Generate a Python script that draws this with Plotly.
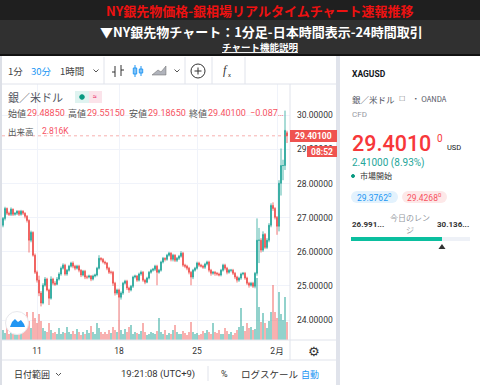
import plotly.graph_objects as go

W, H = 480, 385
closes = [26.78,26.98,27.27,27.13,27.10,27.25,27.10,27.13,27.19,27.10,27.19,27.13,
27.04,26.92,26.34,26.57,25.90,25.40,25.17,24.79,24.50,25.02,25.20,24.88,
24.64,25.20,25.08,25.05,25.20,25.35,25.52,25.61,25.35,25.46,25.58,25.67,
25.58,25.52,25.58,25.46,25.32,25.43,25.26,25.26,25.29,25.20,25.29,25.32,
25.52,25.81,25.78,25.70,25.67,25.52,25.40,25.40,25.08,24.79,24.88,24.67,
24.79,25.08,25.14,24.94,24.88,24.99,25.26,25.29,25.17,25.35,25.40,25.17,
25.11,25.23,25.40,25.46,25.49,25.58,25.40,25.46,25.70,25.81,25.78,25.90,
25.96,25.78,25.90,25.75,25.81,25.87,25.96,25.61,25.58,25.52,25.40,25.26,
25.46,25.52,25.67,25.61,25.58,25.55,25.64,25.70,25.46,25.37,25.40,25.37,
25.35,25.32,25.46,25.61,25.52,25.40,25.46,25.46,25.37,25.26,25.17,25.23,
25.35,25.37,25.23,25.08,25.02,25.08,24.99,25.37,26.34,26.34,26.05,26.51,
26.13,26.34,26.78,27.36,27.27,27.01,26.75,28.01,28.53,28.53,29.56,29.40]
opens = [26.70,26.78,26.98,27.27,27.13,27.10,27.25,27.10,27.13,27.19,27.10,27.19,
27.13,27.04,26.92,26.34,26.57,25.90,25.40,25.17,24.79,24.50,25.02,25.20,
24.88,24.64,25.20,25.08,25.05,25.20,25.35,25.52,25.61,25.35,25.46,25.58,
25.67,25.58,25.52,25.58,25.46,25.32,25.43,25.26,25.26,25.29,25.20,25.29,
25.32,25.52,25.81,25.78,25.70,25.67,25.52,25.40,25.40,25.08,24.79,24.88,
24.67,24.79,25.08,25.14,24.94,24.88,24.99,25.26,25.29,25.17,25.35,25.40,
25.17,25.11,25.23,25.40,25.46,25.49,25.58,25.40,25.46,25.70,25.81,25.78,
25.90,25.96,25.78,25.90,25.75,25.81,25.87,25.96,25.61,25.58,25.52,25.40,
25.26,25.46,25.52,25.67,25.61,25.58,25.55,25.64,25.70,25.46,25.37,25.40,
25.37,25.35,25.32,25.46,25.61,25.52,25.40,25.46,25.46,25.37,25.26,25.17,
25.23,25.35,25.37,25.23,25.08,25.02,25.08,24.99,25.37,26.34,26.34,26.05,
26.51,26.13,26.34,26.78,27.36,27.27,27.01,26.75,28.01,28.53,28.53,29.49]
highs = [26.82,27.02,27.32,27.30,27.18,27.30,27.27,27.16,27.22,27.22,27.23,27.22,
27.16,27.08,26.95,26.62,26.60,25.95,25.45,25.30,24.85,25.08,25.26,25.24,
24.92,25.28,25.24,25.14,25.26,25.40,25.57,25.66,25.65,25.50,25.62,25.71,
25.72,25.62,25.62,25.62,25.49,25.47,25.47,25.31,25.33,25.32,25.33,25.36,
25.56,25.90,25.84,25.82,25.74,25.70,25.56,25.45,25.44,25.12,24.92,24.92,
24.84,25.12,25.18,25.18,24.98,25.03,25.30,25.33,25.32,25.39,25.45,25.44,
25.21,25.27,25.44,25.50,25.53,25.62,25.62,25.50,25.74,25.85,25.84,25.94,
26.00,25.99,25.94,25.93,25.85,25.91,26.02,26.00,25.65,25.62,25.56,25.44,
25.50,25.56,25.71,25.71,25.65,25.62,25.68,25.74,25.74,25.50,25.44,25.44,
25.41,25.39,25.50,25.65,25.65,25.56,25.50,25.50,25.50,25.41,25.30,25.27,
25.39,25.41,25.41,25.27,25.12,25.12,25.12,25.41,26.98,26.70,26.40,26.60,
26.55,26.40,26.84,27.42,27.45,27.31,27.05,28.10,29.03,28.70,30.14,29.55]
lows = [26.60,26.72,26.92,27.08,27.05,27.05,27.05,27.06,27.08,27.05,27.06,27.08,
26.98,26.86,25.98,26.28,25.86,25.35,25.10,24.70,24.40,24.46,24.98,24.84,
24.44,24.60,25.02,25.00,25.02,25.16,25.30,25.48,25.30,25.30,25.42,25.54,
25.52,25.46,25.48,25.40,25.26,25.28,25.20,25.20,25.22,25.14,25.16,25.25,
25.28,25.48,25.72,25.66,25.62,25.46,25.35,25.34,25.00,24.72,24.74,24.00,
24.60,24.74,25.04,24.88,24.80,24.84,24.94,25.22,25.12,25.13,25.30,25.12,
25.05,25.08,25.19,25.36,25.42,25.44,25.02,25.36,25.42,25.66,25.72,25.74,
25.86,25.72,25.72,25.70,25.70,25.76,25.83,25.56,25.52,25.46,25.34,25.02,
25.20,25.42,25.48,25.56,25.54,25.50,25.50,25.60,25.40,25.30,25.33,25.30,
25.30,25.28,25.28,25.42,25.46,25.34,25.36,25.40,25.32,25.20,25.10,25.12,
25.18,25.31,25.18,25.03,24.95,24.98,24.94,24.93,25.30,25.67,25.98,26.00,
26.08,26.08,26.28,26.72,27.20,26.95,26.50,26.60,27.65,28.10,28.40,29.19]
volumes_k = [0.8,1.6,1.1,2.0,1.0,1.5,0.9,1.9,1.2,1.0,1.3,1.7,
2.8,4.4,3.0,1.8,4.4,3.4,2.6,4.1,3.0,1.9,1.4,1.2,
2.7,1.5,1.1,1.3,1.0,1.8,0.9,1.3,1.1,2.0,1.2,0.9,
1.4,1.0,1.7,1.2,0.8,1.3,1.0,1.5,1.1,2.2,1.3,1.0,
2.7,1.8,1.2,0.9,1.3,1.0,1.6,1.1,2.1,1.5,1.2,3.2,
1.5,1.0,1.7,1.2,2.0,2.4,1.0,1.3,1.1,0.9,1.4,2.7,
1.2,0.8,1.0,1.3,1.1,0.9,1.4,3.4,1.2,1.0,1.5,0.8,
1.1,0.9,1.5,2.3,1.2,1.0,0.9,1.4,1.1,0.8,1.2,2.8,
1.3,0.9,1.1,0.8,1.0,1.4,1.1,1.6,1.2,1.0,2.6,1.3,
1.1,1.5,1.0,0.9,1.9,1.4,1.0,1.3,0.8,1.1,1.6,2.0,
5.0,2.2,1.4,2.6,1.8,2.0,1.5,1.7,9.7,5.2,2.8,4.2,
2.6,1.9,3.0,4.4,8.6,4.4,3.4,7.5,4.0,3.2,6.7,2.816]
date_ticks = [18, 59, 98, 138]
date_labels = ["11", "18", "25", "2月"]
price_ticks = [24, 25, 26, 27, 28, 29, 30]
price_labels = ["24.00000", "25.00000", "26.00000", "27.00000", "28.00000", "29.00000", "30.00000"]
last_price = 29.401

UP, DOWN = "#26a69a", "#ef5350"
FONT = "Roboto, 'Noto Sans CJK JP', sans-serif"
JP = "'Noto Sans CJK JP', sans-serif"
idx = list(range(len(closes)))
vol_colors = ["rgba(38,166,154,0.5)" if c >= o else "rgba(239,83,80,0.45)" for o, c in zip(opens, closes)]

fig = go.Figure()
fig.add_trace(go.Bar(x=idx, y=volumes_k, marker=dict(color=vol_colors, line_width=0), width=0.75, yaxis="y", xaxis="x"))
fig.add_trace(go.Candlestick(x=idx, open=opens, high=highs, low=lows, close=closes, yaxis="y2", xaxis="x",
    increasing=dict(line=dict(color=UP, width=0.8), fillcolor=UP),
    decreasing=dict(line=dict(color=DOWN, width=0.8), fillcolor=DOWN), whiskerwidth=0))

def px(x): return x / W
def py(y): return 1 - y / H

shapes, annos = [], []
def rect(x0, y0, x1, y1, fill, layer="below", line=None):
    shapes.append(dict(type="rect", xref="paper", yref="paper", x0=px(x0), x1=px(x1), y0=py(y0), y1=py(y1),
                       fillcolor=fill, line=dict(width=0) if line is None else line, layer=layer))
def seg(x0, y0, x1, y1, color="#e0e3eb", width=1, layer="above"):
    shapes.append(dict(type="line", xref="paper", yref="paper", x0=px(x0), x1=px(x1), y0=py(y0), y1=py(y1),
                       line=dict(color=color, width=width), layer=layer))
def circ(cx, cy, r, line="#333", fill="rgba(0,0,0,0)", width=1):
    shapes.append(dict(type="circle", xref="paper", yref="paper", x0=px(cx-r), x1=px(cx+r), y0=py(cy+r), y1=py(cy-r),
                       fillcolor=fill, line=dict(color=line, width=width), layer="above"))
def path(d_pts, fill, line="rgba(0,0,0,0)"):
    d = "M " + " L ".join(f"{px(a):.4f},{py(b):.4f}" for a, b in d_pts) + " Z"
    shapes.append(dict(type="path", xref="paper", yref="paper", path=d, fillcolor=fill, line=dict(color=line, width=0.5), layer="above"))
def T(x, y, s, size=9, color="#333", anchor="left", font=FONT, bg=None):
    annos.append(dict(xref="paper", yref="paper", x=px(x), y=py(y), text=s, showarrow=False, xanchor=anchor, yanchor="middle",
                      font=dict(size=size, color=color, family=font), borderpad=0, bgcolor=bg))

# page chrome
rect(0, 0, 480, 20, "#1f1f1f")
rect(0, 20, 480, 54, "#303030")
rect(0, 54, 480, 56, "#111111")
rect(0, 56, 2, 385, "#dcdfe6")
rect(336, 56, 340, 385, "#e0e3eb")
seg(2, 84, 336, 84)
seg(2, 360, 336, 360)
seg(290, 84, 290, 360)
seg(2, 340, 336, 340)
for x in (104, 185, 212, 245):
    seg(x, 57, x, 84)

# header
T(260, 10, "<b>NY銀先物価格-銀相場リアルタイムチャート速報推移</b>", 13, "#ee1111", "center", JP)
T(261, 31, "<b>▼NY銀先物チャート：1分足-日本時間表示-24時間取引</b>", 13, "#ffffff", "center", JP)
T(260, 47, "<b><u>チャート機能説明</u></b>", 9.5, "#ffffff", "center", JP)

# toolbar
T(7, 71, "1分", 9.5, "#444", font=JP)
T(30, 71, "30分", 9.5, "#2196f3", font=JP)
T(59, 71, "1時間", 9.5, "#444", font=JP)
for a in (96, 177):
    seg(a-2.5, 69.5, a, 72, "#555"); seg(a, 72, a+2.5, 69.5, "#555")
seg(115, 66, 115, 77, "#333"); seg(112, 72, 115, 72, "#333"); seg(121, 65, 121, 76, "#333"); seg(121, 70, 124, 70, "#333")
for xc, h0, h1 in ((135, 65, 77), (141, 66, 76)):
    seg(xc, h0, xc, h1, "#2196f3")
    rect(xc-1.7, h0+3, xc+1.7, h1-3, "rgba(33,150,243,0.15)", "above", dict(color="#2196f3", width=1))
path([(152, 75), (158, 70), (161, 72), (166, 66), (166, 75)], "#b0b3bb", "#666")
circ(198, 71, 7, "#333")
seg(194.5, 71, 201.5, 71, "#333"); seg(198, 67.5, 198, 74.5, "#333")
T(222, 70, "<i>f</i>", 12, "#333", font="Liberation Serif")
T(227, 75, "x", 6, "#333")

# legend
T(7, 97, "銀／米ドル", 11, "#50535e", font=JP)
shapes.append(dict(type="rect", xref="paper", yref="paper", x0=px(75), x1=px(89), y0=py(103), y1=py(91), fillcolor="#dff3f0", line_width=0, layer="above"))
shapes.append(dict(type="rect", xref="paper", yref="paper", x0=px(89), x1=px(102), y0=py(103), y1=py(91), fillcolor="#fbe3ea", line_width=0, layer="above"))
circ(82, 97, 2.3, "#089981", "#089981")
T(95, 97, "≈", 7, "#e91e63", "center")
RED = "#f7525f"
for lx, lab, vx, val in ((7, "始値", 26, "29.48850"), (67, "高値", 86, "29.55150"), (128, "安値", 147, "29.18650"), (188, "終値", 207, "29.40100")):
    T(lx, 113, lab, 9, "#555", font=JP)
    T(vx, 113, val, 9, RED)
T(249, 113, "−0.087…", 9, RED)
T(7, 131, "出来高", 8.5, "#555", font=JP)
T(41, 131, "2.816K", 8.5, RED)

# price badges
rect(290, 130, 337, 142, "#ef5350", "above")
T(313.5, 136, "<b>29.40100</b>", 8.5, "#ffffff", "center")
rect(307, 146, 337, 157, "#ef5350", "above")
T(322, 151.5, "<b>08:52</b>", 8.5, "#ffffff", "center")

# logo + bottom
circ(17, 323, 11.5, "#e8e8ec", "#ffffff")
path([(10, 327), (12, 322), (15, 319), (18, 322), (21, 320), (24, 324), (25, 327)], "#2196f3")
T(314, 351, "⚙", 13, "#333", "center", "DejaVu Sans")
T(13, 374, "日付範囲", 9, "#333", font=JP)
seg(56, 373, 58.5, 375.5, "#555"); seg(58.5, 375.5, 61, 373, "#555")
T(120, 374, "19:21:08 (UTC+9)", 9.5, "#333")
seg(208, 366, 208, 381)
T(224, 374, "%", 9, "#333", "center")
T(240, 374, "ログスケール", 9.5, "#333", font=JP)
T(310, 374, "自動", 9, "#2196f3", "center", JP)

# right panel
T(351, 74, "<b>XAGUSD</b>", 8.5, "#131722")
T(351, 99, "銀／米ドル", 8.5, "#50535e", font=JP)
T(398, 99, "☐", 7, "#777")
T(411, 99, "・ OANDA", 7.5, "#50535e", font=JP)
T(351, 114, "CFD", 8, "#9598a1")
T(351, 143, "29.4010", 21.5, "#f7373a", font="Roboto Medium, Roboto")
T(436, 138, "0", 10, "#f7373a")
T(446, 147, "USD", 7.5, "#131722")
T(351, 163, "2.41000 (8.93%)", 10, "#26a69a")
circ(353, 176, 1.5, "#089981", "#089981")
T(359, 176, "市場開始", 8, "#333", font=JP)
for x0, x1, bg, fg, s, tx in ((351, 398, "#e3f2fd", "#2196f3", "29.3762", 374), (402, 447, "#fde8e8", "#f7525f", "29.4268", 424)):
    circ(x0+6, 197, 6, bg, bg, 0)
    circ(x1-6, 197, 6, bg, bg, 0)
    rect(x0+6, 191, x1-6, 203, bg, "above")
    T(tx, 197, s + "<sup>0</sup>", 8.5, fg, "center")
T(351, 224, "<b>26.991...</b>", 8, "#333")
T(410, 217, "今日のレン", 8, "#9598a1", "center", JP)
T(410, 229, "ジ", 8, "#9598a1", "center", JP)
T(470, 224, "<b>30.136...</b>", 8, "#333", "right")
rect(351, 237, 442, 241, "#0bbf9f", "above")
rect(442, 237, 470, 241, "#eef1f7", "above")
path([(438.5, 249), (445.5, 249), (442, 244)], "#333")

# last price dotted line
shapes.append(dict(type="line", xref="x", yref="y2", x0=0.5, x1=144.5, y0=last_price, y1=last_price,
                   line=dict(color="#ef5350", width=1, dash="dot"), layer="above", opacity=0.45))

fig.update_layout(
    width=W, height=H, autosize=False, margin=dict(l=0, r=0, t=0, b=0), paper_bgcolor="#ffffff", plot_bgcolor="#ffffff",
    showlegend=False, bargap=0, shapes=shapes, annotations=annos,
    font=dict(family=FONT, color="#333", size=9),
    xaxis=dict(domain=[px(2), px(290)], range=[0.5, 144.5], tickmode="array", tickvals=date_ticks, ticktext=date_labels,
               showgrid=True, gridcolor="#f0f3fa", gridwidth=1, zeroline=False, showline=False, ticks="",
               rangeslider=dict(visible=False), anchor="y", tickfont=dict(size=8.5, color="#333", family=FONT), ticklabelstandoff=4),
    yaxis=dict(domain=[py(340), py(84)], range=[0, 40], showgrid=False, showticklabels=False, zeroline=False, ticks=""),
    yaxis2=dict(domain=[py(340), py(84)], overlaying="y", side="right", anchor="x", range=[23.415, 30.92],
                tickmode="array", tickvals=price_ticks, ticktext=price_labels, showgrid=True, gridcolor="#f0f3fa",
                zeroline=False, ticks="", tickfont=dict(size=8.5, color="#333", family=FONT), ticklabelstandoff=6),
)
fig.write_html("out.html", post_script="document.body.style.margin='0';", config={"displayModeBar": False})
